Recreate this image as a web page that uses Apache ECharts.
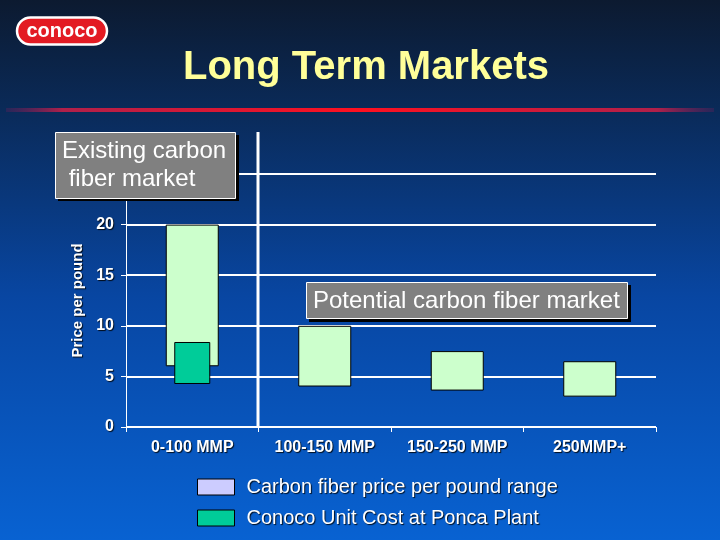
<!DOCTYPE html>
<html>
<head>
<meta charset="utf-8">
<script src="https://cdn.jsdelivr.net/npm/echarts@6/dist/echarts.min.js"></script>
<style>html,body{margin:0;padding:0;background:#0a2a55;}#c{width:720px;height:540px;}</style>
</head>
<body>
<div id="c"></div>
<script>
const categories = ['0-100 MMP', '100-150 MMP', '150-250 MMP', '250MMP+'];
const priceLow = [6, 4, 3.6, 3];
const priceHigh = [20, 10, 7.5, 6.5];
const costLow = [4.25, null, null, null];
const costHigh = [8.4, null, null, null];
const yMin = 0, yMax = 25, yStep = 5;
const legendNames = ['Carbon fiber price per pound range', 'Conoco Unit Cost at Ponca Plant'];

const priceSpan = priceHigh.map((h, i) => h - priceLow[i]);
const costSpan = costHigh.map((h, i) => (h == null ? null : h - costLow[i]));

const chart = echarts.init(document.getElementById('c'), null, {renderer: 'canvas'});
const shadow = {textShadowColor: 'rgba(0,0,0,0.85)', textShadowOffsetX: 1, textShadowOffsetY: 1, textShadowBlur: 1};
const FF = 'Arial, Liberation Sans, sans-serif';
const axisFont = Object.assign({color: '#ffffff', fontFamily: FF, fontWeight: 'bold', fontSize: 16}, shadow);

chart.setOption({
  animation: false,
  backgroundColor: {
    type: 'linear', x: 0, y: 0, x2: 0, y2: 1,
    colorStops: [
      {offset: 0, color: '#0c1a30'},
      {offset: 0.2, color: '#0a2a58'},
      {offset: 0.55, color: '#0846a2'},
      {offset: 1, color: '#0862d2'}
    ]
  },
  grid: {left: 126, right: 64, top: 174, bottom: 113},
  xAxis: [{
    type: 'category', data: categories,
    axisLine: {lineStyle: {color: '#ffffff', width: 1}},
    axisTick: {show: true, length: 5, lineStyle: {color: '#ffffff'}},
    axisLabel: Object.assign({margin: 13}, axisFont)
  }, {
    type: 'category', data: categories, show: false
  }],
  yAxis: {
    type: 'value', min: yMin, max: yMax, interval: yStep,
    name: 'Price per pound', nameLocation: 'middle', nameGap: 40, nameRotate: 90,
    nameTextStyle: Object.assign({}, axisFont, {fontSize: 15}),
    axisLine: {show: true, lineStyle: {color: '#ffffff', width: 1}},
    axisTick: {show: true, length: 5, lineStyle: {color: '#ffffff'}},
    axisLabel: Object.assign({margin: 12}, axisFont),
    splitLine: {lineStyle: {color: '#ffffff', width: 2}}
  },
  legend: {
    orient: 'vertical', left: 197, top: 477, itemWidth: 37, itemHeight: 16, itemGap: 11,
    padding: 0, icon: 'rect', selectedMode: false,
    data: [
      {name: legendNames[0], itemStyle: {color: '#CCCCFF', borderColor: '#000', borderWidth: 1}},
      {name: legendNames[1], itemStyle: {color: '#00CC99', borderColor: '#000', borderWidth: 1}}
    ],
    textStyle: Object.assign({color: '#ffffff', fontFamily: FF, fontSize: 20, padding: [0, 0, 0, 7]}, shadow)
  },
  series: [
    {name: 'priceBase', type: 'bar', stack: 'price', data: priceLow, barWidth: 53,
     itemStyle: {color: 'rgba(0,0,0,0)'}, silent: true},
    {name: legendNames[0], type: 'bar', stack: 'price', data: priceSpan, barWidth: 53,
     itemStyle: {color: '#CCFFCC', borderColor: '#000000', borderWidth: 1}},
    {name: 'costBase', type: 'bar', stack: 'cost', xAxisIndex: 1, data: costLow, barWidth: 36,
     itemStyle: {color: 'rgba(0,0,0,0)'}, silent: true},
    {name: legendNames[1], type: 'bar', stack: 'cost', xAxisIndex: 1, data: costSpan, barWidth: 36,
     itemStyle: {color: '#00CC99', borderColor: '#000000', borderWidth: 1}}
  ],
  graphic: [
    // logo
    {type: 'rect', z: 100, shape: {x: 17, y: 17.5, width: 90, height: 27, r: 13.5},
     style: {fill: '#e31b23', stroke: '#ffffff', lineWidth: 2.5}},
    {type: 'text', z: 101, x: 62, y: 31,
     style: {text: 'conoco', fill: '#ffffff', font: 'bold 20px Arial, Liberation Sans, sans-serif', textAlign: 'center', textVerticalAlign: 'middle'}},
    // title
    {type: 'text', z: 101, x: 366, y: 68,
     style: {text: 'Long Term Markets', fill: '#FFFF99', font: 'bold 40px Arial, Liberation Sans, sans-serif', textAlign: 'center', textVerticalAlign: 'middle',
             textShadowColor: 'rgba(0,0,0,0.9)', textShadowOffsetX: 2, textShadowOffsetY: 2}},
    // red rule
    {type: 'rect', z: 100, shape: {x: 6, y: 108, width: 708, height: 4},
     style: {fill: {type: 'linear', x: 0, y: 0, x2: 1, y2: 0, colorStops: [
       {offset: 0, color: 'rgba(110,30,90,0.3)'}, {offset: 0.08, color: '#b0204a'}, {offset: 0.5, color: '#ff1020'}, {offset: 0.92, color: '#b0204a'}, {offset: 1, color: 'rgba(110,30,90,0.3)'}]}}},
    // divider
    {type: 'line', z: 100, shape: {x1: 258, y1: 132, x2: 258, y2: 426}, style: {stroke: '#ffffff', lineWidth: 3}},
    // existing box
    {type: 'rect', z: 100, shape: {x: 58, y: 135, width: 181, height: 66}, style: {fill: '#000000'}},
    {type: 'rect', z: 101, shape: {x: 55.5, y: 132.5, width: 180, height: 66}, style: {fill: '#808080', stroke: '#ffffff', lineWidth: 1}},
    {type: 'text', z: 102, x: 62, y: 137,
     style: {text: 'Existing carbon\n fiber market', fill: '#ffffff', font: '24px Arial, Liberation Sans, sans-serif', lineHeight: 28, textVerticalAlign: 'top'}},
    // potential box
    {type: 'rect', z: 100, shape: {x: 309, y: 285, width: 322, height: 37}, style: {fill: '#000000'}},
    {type: 'rect', z: 101, shape: {x: 306.5, y: 282.5, width: 321, height: 36}, style: {fill: '#808080', stroke: '#ffffff', lineWidth: 1}},
    {type: 'text', z: 102, x: 313, y: 301,
     style: {text: 'Potential carbon fiber market', fill: '#ffffff', font: '24px Arial, Liberation Sans, sans-serif', textVerticalAlign: 'middle'}}
  ]
});
</script>
</body>
</html>
